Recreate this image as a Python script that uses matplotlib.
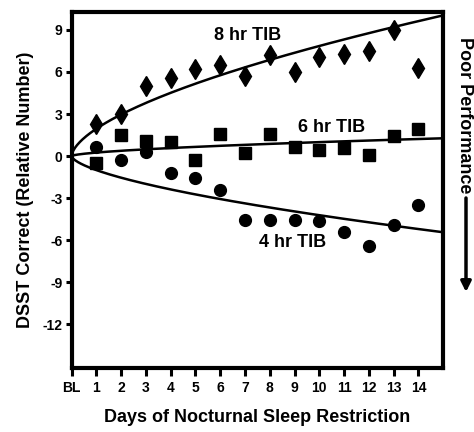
import matplotlib
matplotlib.use("Agg")
import matplotlib.pyplot as plt
import numpy as np

plt.rcParams['font.family'] = ['Liberation Sans', 'DejaVu Sans']
plt.rcParams['font.weight'] = 'bold'
plt.rcParams['axes.unicode_minus'] = False

# data (change in DSST correct vs. baseline)
days = list(range(1, 15))
tib8 = [2.3, 3.0, 5.0, 5.6, 6.2, 6.5, 5.7, 7.2, 6.0, 7.1, 7.3, 7.5, 9.0, 6.3]
tib6 = [-0.5, 1.5, 1.05, 1.0, -0.25, 1.6, 0.2, 1.6, 0.65, 0.45, 0.6, 0.05, 1.4, 1.9]
tib4 = [0.65, -0.3, 0.3, -1.2, -1.55, -2.45, -4.55, -4.55, -4.55, -4.6, -5.4, -6.4, -4.9, -3.5]

# fitted curves y = a * day**b (parameters estimated from the drawn lines)
fit8 = (1.95, 0.605)
fit6 = (0.25, 0.6)
fit4 = (-1.0, 0.625)

xtick_labels = ['BL'] + [str(d) for d in days]
ytick_values = [-12, -9, -6, -3, 0, 3, 6, 9]

fig = plt.figure(figsize=(4.74, 4.32), dpi=100)
ax = fig.add_axes([0.151, 0.147, 0.784, 0.826])

t = np.linspace(0, 15, 400)
for a, b in (fit8, fit6, fit4):
    ax.plot(t, a * t ** b, color='black', lw=1.8, zorder=2)

ax.plot(days, tib8, 'd', color='black', ms=10.5, zorder=3)
ax.plot(days, tib6, 's', color='black', ms=8, zorder=3)
ax.plot(days, tib4, 'o', color='black', ms=8.5, zorder=3)

ax.text(7.1, 8.6, '8 hr TIB', fontsize=13, fontweight='bold', ha='center', va='center')
ax.text(10.5, 2.05, '6 hr TIB', fontsize=13, fontweight='bold', ha='center', va='center')
ax.text(8.9, -6.15, '4 hr TIB', fontsize=13, fontweight='bold', ha='center', va='center')

ax.set_xlim(0, 15)
ax.set_ylim(-15.15, 10.3)
ax.set_xticks(range(0, 15))
ax.set_xticklabels(xtick_labels)
ax.set_yticks(ytick_values)

for s in ax.spines.values():
    s.set_linewidth(3)
ax.tick_params(axis='x', length=6, width=2.2, pad=3, labelsize=10, direction='out')
ax.tick_params(axis='y', length=4.5, width=2.2, pad=2, labelsize=10, direction='out')
for lab in ax.get_xticklabels() + ax.get_yticklabels():
    lab.set_fontweight('bold')

ax.set_xlabel('Days of Nocturnal Sleep Restriction', fontsize=13, fontweight='bold', labelpad=10)
ax.set_ylabel('DSST Correct (Relative Number)', fontsize=13, fontweight='bold', labelpad=6)

fig.text(465 / 474, 1 - 115 / 432, 'Poor Performance', rotation=270, fontsize=13,
         fontweight='bold', ha='center', va='center')
ax.annotate('', xy=(466, 432 - 292), xytext=(466, 432 - 198),
            xycoords='figure pixels', textcoords='figure pixels',
            arrowprops=dict(arrowstyle='-|>', color='black', lw=2.5,
                            mutation_scale=15, shrinkA=0, shrinkB=0),
            annotation_clip=False)

fig.savefig('out.png', dpi=100)
